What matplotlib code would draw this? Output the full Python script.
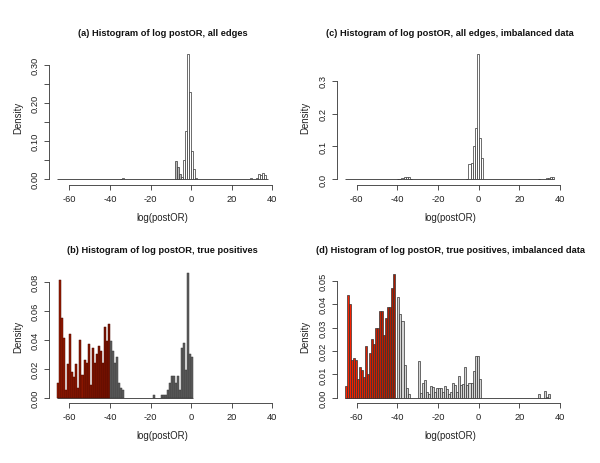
import numpy as np
import matplotlib
matplotlib.use("Agg")
import matplotlib.pyplot as plt
from matplotlib.colors import LinearSegmentedColormap

plt.rcParams['font.family'] = ['Liberation Sans', 'DejaVu Sans']

# ---------------- data (bin left edges, bin width 1) ----------------
titles = ["(a) Histogram of log postOR, all edges",
          "(b) Histogram of log postOR, true positives",
          "(c) Histogram of log postOR, all edges, imbalanced data",
          "(d) Histogram of log postOR, true positives, imbalanced data"]
xlabel = "log(postOR)"
ylabel = "Density"
xticks = [-60, -40, -20, 0, 20, 40]

# (a) all edges
a_range = (-66, 38)
a_left = [-35, -34, -8, -7, -6, -5, -4, -3, -2, -1, 0, 1, 2, 29, 32, 33, 34, 35, 36]
a_dens = [0.001, 0.003, 0.047, 0.031, 0.014, 0.004, 0.049, 0.126, 0.330, 0.230,
          0.074, 0.025, 0.002, 0.002, 0.002, 0.013, 0.011, 0.015, 0.010]
a_yticks = [0.00, 0.05, 0.10, 0.15, 0.20, 0.25, 0.30]
a_ylabels = ["0.00", "", "0.10", "", "0.20", "", "0.30"]

# (c) all edges, imbalanced data
c_range = (-66, 37)
c_left = [-40, -39, -38, -37, -36, -35, -34, -6, -5, -4, -3, -2, -1, 0, 1, 29, 33, 34, 35, 36]
c_dens = [0.001, 0.002, 0.004, 0.007, 0.008, 0.006, 0.002, 0.002, 0.048, 0.049,
          0.100, 0.155, 0.380, 0.125, 0.066, 0.002, 0.003, 0.005, 0.006, 0.006]
c_yticks = [0.0, 0.1, 0.2, 0.3]
c_ylabels = ["0.0", "0.1", "0.2", "0.3"]

# (b) true positives
b_range = (-66, 1)
b_left = [-66, -65, -64, -63, -62, -61, -60, -59, -58, -57, -56, -55, -54, -53,
          -52, -51, -50, -49, -48, -47, -46, -45, -44, -43, -42, -41,
          -40, -39, -38, -37, -36, -35, -34,
          -19, -15, -14, -13, -12, -11, -10, -9, -8, -7, -6, -5, -4, -3, -2, -1, 0]
b_dens = [0.010, 0.081, 0.055, 0.041, 0.005, 0.023, 0.044, 0.018, 0.014, 0.023,
          0.007, 0.040, 0.016, 0.026, 0.024, 0.037, 0.009, 0.034, 0.024, 0.030,
          0.036, 0.032, 0.024, 0.049, 0.039, 0.051,
          0.039, 0.032, 0.024, 0.028, 0.010, 0.007, 0.005,
          0.002, 0.002, 0.002, 0.002, 0.005, 0.010, 0.015, 0.015, 0.010, 0.015,
          0.005, 0.034, 0.038, 0.019, 0.086, 0.030, 0.028]
b_yticks = [0.00, 0.02, 0.04, 0.06, 0.08]
b_ylabels = ["0.00", "0.02", "0.04", "0.06", "0.08"]

# (d) true positives, imbalanced data
d_range = (-66, 35)
d_left = [-66, -65, -64, -63, -62, -61, -60, -59, -58, -57, -56, -55, -54, -53,
          -52, -51, -50, -49, -48, -47, -46, -45, -44, -43, -42, -41,
          -40, -39, -38, -37, -36, -35,
          -30, -29, -28, -27, -26, -25, -24, -23, -22, -21, -20, -19, -18, -17,
          -16, -15, -14, -13, -12, -11, -10, -9, -8, -7, -6, -5, -4, -3, -2, -1, 0,
          29, 32, 33, 34]
d_dens = [0.005, 0.044, 0.040, 0.016, 0.017, 0.016, 0.008, 0.013, 0.012, 0.009,
          0.022, 0.010, 0.019, 0.025, 0.023, 0.030, 0.030, 0.037, 0.037, 0.027,
          0.034, 0.039, 0.039, 0.047, 0.053, 0.0,
          0.043, 0.036, 0.033, 0.014, 0.004, 0.0015,
          0.0155, 0.002, 0.0065, 0.0075, 0.0025, 0.0015, 0.0052, 0.0045, 0.0025,
          0.004, 0.004, 0.004, 0.0025, 0.0052, 0.0038, 0.0015, 0.0025, 0.0065,
          0.0055, 0.0025, 0.0095, 0.0055, 0.006, 0.013, 0.0055, 0.0065, 0.0065,
          0.0115, 0.018, 0.018, 0.008,
          0.0015, 0.0027, 0.0005, 0.0015]
d_yticks = [0.00, 0.01, 0.02, 0.03, 0.04, 0.05]
d_ylabels = ["0.00", "0.01", "0.02", "0.03", "0.04", "0.05"]

red_cut = -40  # bins left of this are coloured red in (b) and (d)

# ---------------- figure ----------------
fig = plt.figure(figsize=(6.0, 4.64), dpi=100)
W, H = 600.0, 464.0

def make_ax(left_px, top_px, bottom_px, right_px):
    return fig.add_axes([left_px / W, 1 - bottom_px / H,
                         (right_px - left_px) / W, (bottom_px - top_px) / H])

ax_a = make_ax(49, 50, 186, 276.4)
ax_c = make_ax(336.5, 50, 186, 563.9)
ax_b = make_ax(49, 270, 404, 276.4)
ax_d = make_ax(336.5, 270, 404, 563.9)

def style(ax, ylim, yticks, ylabels, title, title_off, h_px):
    ax.set_xlim(-70, 42)
    ax.set_ylim(*ylim)
    for s in ['top', 'right']:
        ax.spines[s].set_visible(False)
    ax.spines['left'].set_bounds(yticks[0], yticks[-1])
    ax.spines['bottom'].set_bounds(xticks[0], xticks[-1])
    for s in ['left', 'bottom']:
        ax.spines[s].set_linewidth(0.6)
        ax.spines[s].set_color('#333333')
    ax.set_xticks(xticks)
    ax.set_xticklabels([str(t) for t in xticks])
    ax.set_yticks(yticks)
    ax.set_yticklabels(ylabels, rotation=90, va='center')
    ax.tick_params(axis='both', direction='out', length=3.6, width=0.6,
                   color='#333333', labelsize=6.7, labelcolor='#222222')
    ax.tick_params(axis='x', pad=3.0)
    ax.tick_params(axis='y', pad=2.8)
    ax.set_xlabel(xlabel, fontsize=6.9, color='#222222', va='center')
    ax.set_ylabel(ylabel, fontsize=6.9, color='#222222', va='center')
    ax.xaxis.set_label_coords(0.5, -32.0 / h_px)
    ax.yaxis.set_label_coords(-31.0 / 227.4, 0.5)
    ax.text(0.5, 1 + title_off, title, transform=ax.transAxes, ha='center',
            va='center', fontsize=6.7, fontweight='bold', color='#111111')

def draw_white(ax, rng, left, dens, grey_from=None, grey_to=None):
    ax.hlines(0, rng[0], rng[1], color='#333333', linewidth=0.6, zorder=1)
    cols = []
    for l in left:
        if grey_from is not None and grey_from <= l <= grey_to:
            cols.append('#b8b8b8')
        else:
            cols.append('white')
    ax.bar(left, dens, width=1, align='edge', color=cols, edgecolor='#333333',
           linewidth=0.5, zorder=2)

# (a)
draw_white(ax_a, a_range, a_left, a_dens, -8, -6)
style(ax_a, (-0.0158, 0.3421), a_yticks, a_ylabels, titles[0], 17 / 136, 136)
# (c)
draw_white(ax_c, c_range, c_left, c_dens)
style(ax_c, (-0.0173, 0.3964), c_yticks, c_ylabels, titles[2], 17 / 136, 136)

# (b)
cmap_b = LinearSegmentedColormap.from_list('b', ['#9a1a00', '#7a1200'])
ax_b.hlines(0, b_range[0], b_range[1], color='#333333', linewidth=0.6, zorder=1)
b_cols = [cmap_b((l - a_range[0]) / (red_cut - a_range[0])) if l < red_cut else '#5e5e5e'
          for l in b_left]
b_edges = ['#4a0a00' if l < red_cut else '#3a3a3a' for l in b_left]
ax_b.bar(b_left, b_dens, width=1, align='edge', color=b_cols, edgecolor=b_edges,
         linewidth=0.35, zorder=2)
style(ax_b, (-0.00366, 0.0888), b_yticks, b_ylabels, titles[1], 19 / 134, 134)

# (d)
cmap_d = LinearSegmentedColormap.from_list('d', ['#ff2200', '#a81a00'])
ax_d.hlines(0, d_range[0], d_range[1], color='#333333', linewidth=0.6, zorder=1)
d_cols = [cmap_d((l - d_range[0]) / (red_cut - 1 - d_range[0])) if l < red_cut else '#d4d4d4'
          for l in d_left]
ax_d.bar(d_left, d_dens, width=1, align='edge', color=d_cols, edgecolor='#333333',
         linewidth=0.5, zorder=2)
style(ax_d, (-0.00227, 0.0551), d_yticks, d_ylabels, titles[3], 19 / 134, 134)

fig.savefig("out.png", dpi=100, facecolor='white')
